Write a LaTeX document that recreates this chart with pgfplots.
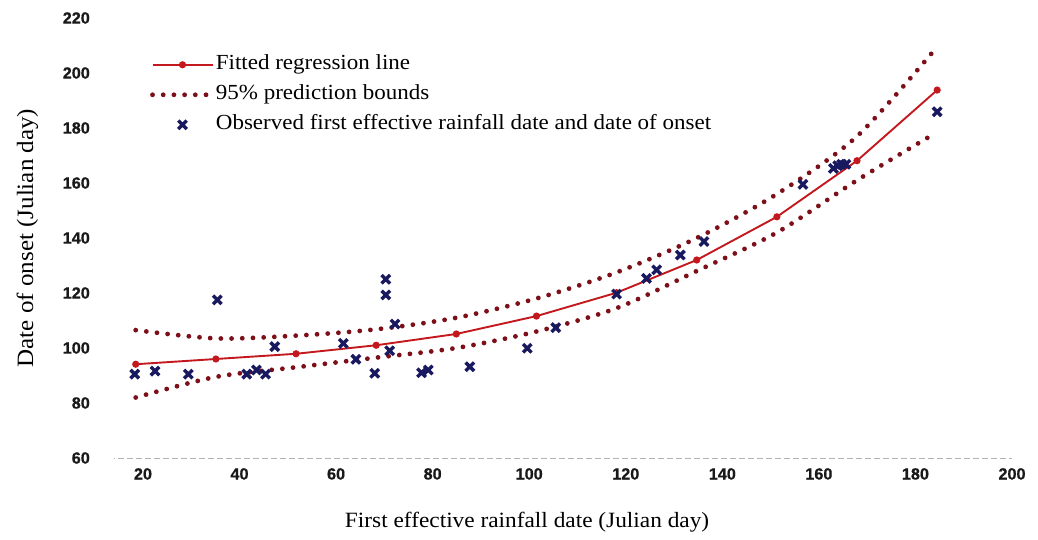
\documentclass[border=0pt]{standalone}
\usepackage{fontspec}
\setmainfont{Liberation Serif}[FakeStretch=1.07]
\newfontfamily\ticksf{Liberation Sans}[FakeBold=0.7]
\usepackage{pgfplots}
\pgfplotsset{compat=1.18}
\definecolor{fitred}{RGB}{195,25,30}
\definecolor{boundred}{RGB}{125,15,25}
\definecolor{obsnavy}{RGB}{25,25,95}
\pgfplotsset{
  fitleg/.style={legend image code/.code={\draw[##1,mark repeat=2,mark phase=2] plot coordinates {(0pt,0pt) (30pt,0pt) (60pt,0pt)};}},
  boundleg/.style={legend image code/.code={\draw[##1] (0pt,0pt) -- (60pt,0pt);}},
  obsleg/.style={legend image code/.code={\draw[##1] plot coordinates {(30pt,0pt)};}},
}
\begin{document}
\begin{tikzpicture}
\begin{axis}[
  scale only axis, width=898pt, height=440pt,
  xmin=14, xmax=200, ymin=60, ymax=220,
  xtick={20,40,...,200}, ytick={60,80,...,220},
  axis line style={draw=none},
  major tick length=0pt,
  /pgf/number format/assume math mode=true,
  ticklabel style={font=\ticksf\bfseries\fontsize{16.2}{17}\selectfont, text=black!90},
  yticklabel style={inner sep=0pt, anchor=east, xshift=-24pt},
  xticklabel style={inner sep=0pt, anchor=north, yshift=-10pt},
  xlabel={First effective rainfall date (Julian day)},
  ylabel={Date of onset (Julian day)},
  xlabel style={at={(axis description cs:0.46,-0.1455)}, anchor=center, font=\fontsize{21.8}{24}\selectfont},
  ylabel style={at={(axis description cs:-0.0965,0.5)}, anchor=center, font=\fontsize{23.4}{26}\selectfont},
  legend style={at={(axis description cs:0.040,0.918)}, anchor=north west, draw=none, fill=none,
    inner sep=0pt, row sep=9pt, font=\fontsize{21.5}{24}\selectfont,
    nodes={inner sep=1pt, text height=14pt, text depth=5pt}},
  legend cell align=left,
]
\addplot[fitred, line width=1.9pt, mark=*, mark size=2.6pt, mark options={fill=fitred, draw=fitred}, fitleg]
  coordinates {
  (18.5,94.1) (35.1,96.0) (51.7,97.9) (68.3,101.0) (84.9,105.1) (101.5,111.6)
  (118.1,120.1) (134.7,132.0) (151.3,147.7) (167.9,168.1) (184.5,193.8)};
\addlegendentry{Fitted regression line}
\addplot[boundred, line width=4.8pt, dash pattern=on 0pt off 10.7pt, line cap=round, smooth, boundleg]
  coordinates {
  (18.5,106.5) (35.1,103.5) (51.7,104.5) (68.3,106.8) (84.9,111.0) (101.5,118.0)
  (118.1,127.5) (134.7,140.0) (151.3,156.0) (167.9,177.0) (184.0,208.5)};
\addlegendentry{95\% prediction bounds}
\addplot[boundred, line width=4.8pt, dash pattern=on 0pt off 10.7pt, line cap=round, smooth, forget plot]
  coordinates {
  (18.5,82.0) (35.1,89.5) (51.7,93.0) (68.3,96.5) (84.9,100.0) (101.5,106.0)
  (118.1,114.5) (134.7,128.0) (151.3,142.0) (167.9,161.0) (184.0,178.0)};
\addplot[only marks, obsnavy, mark=x, mark size=6pt, line width=3.4pt, obsleg]
  coordinates {
  (18.3,90.5) (22.5,91.6) (29.4,90.5) (35.4,117.5) (41.5,90.5) (43.5,92.0)
  (45.4,90.5) (47.3,100.5) (61.5,101.7) (64.1,95.9) (68.0,90.8) (70.3,125.0)
  (70.3,119.3) (71.1,99.0) (72.2,108.7) (77.7,91.0) (79.1,92.0) (87.7,93.2)
  (99.6,99.9) (105.5,107.4) (118.1,119.6) (124.3,125.3) (126.4,128.4)
  (131.3,133.8) (136.2,138.7) (156.7,159.5) (163.0,165.3) (163.9,166.3)
  (164.7,166.8) (165.6,166.8) (184.5,185.9)};
\addlegendentry{Observed first effective rainfall date and date of onset}
\draw[black!30, dash pattern=on 6pt off 3pt] (axis cs:11,60) -- (rel axis cs:1,0);
\end{axis}
\path (current axis.south west) +(-114pt,-81pt) rectangle +(924pt,458pt);
\end{tikzpicture}
\end{document}
